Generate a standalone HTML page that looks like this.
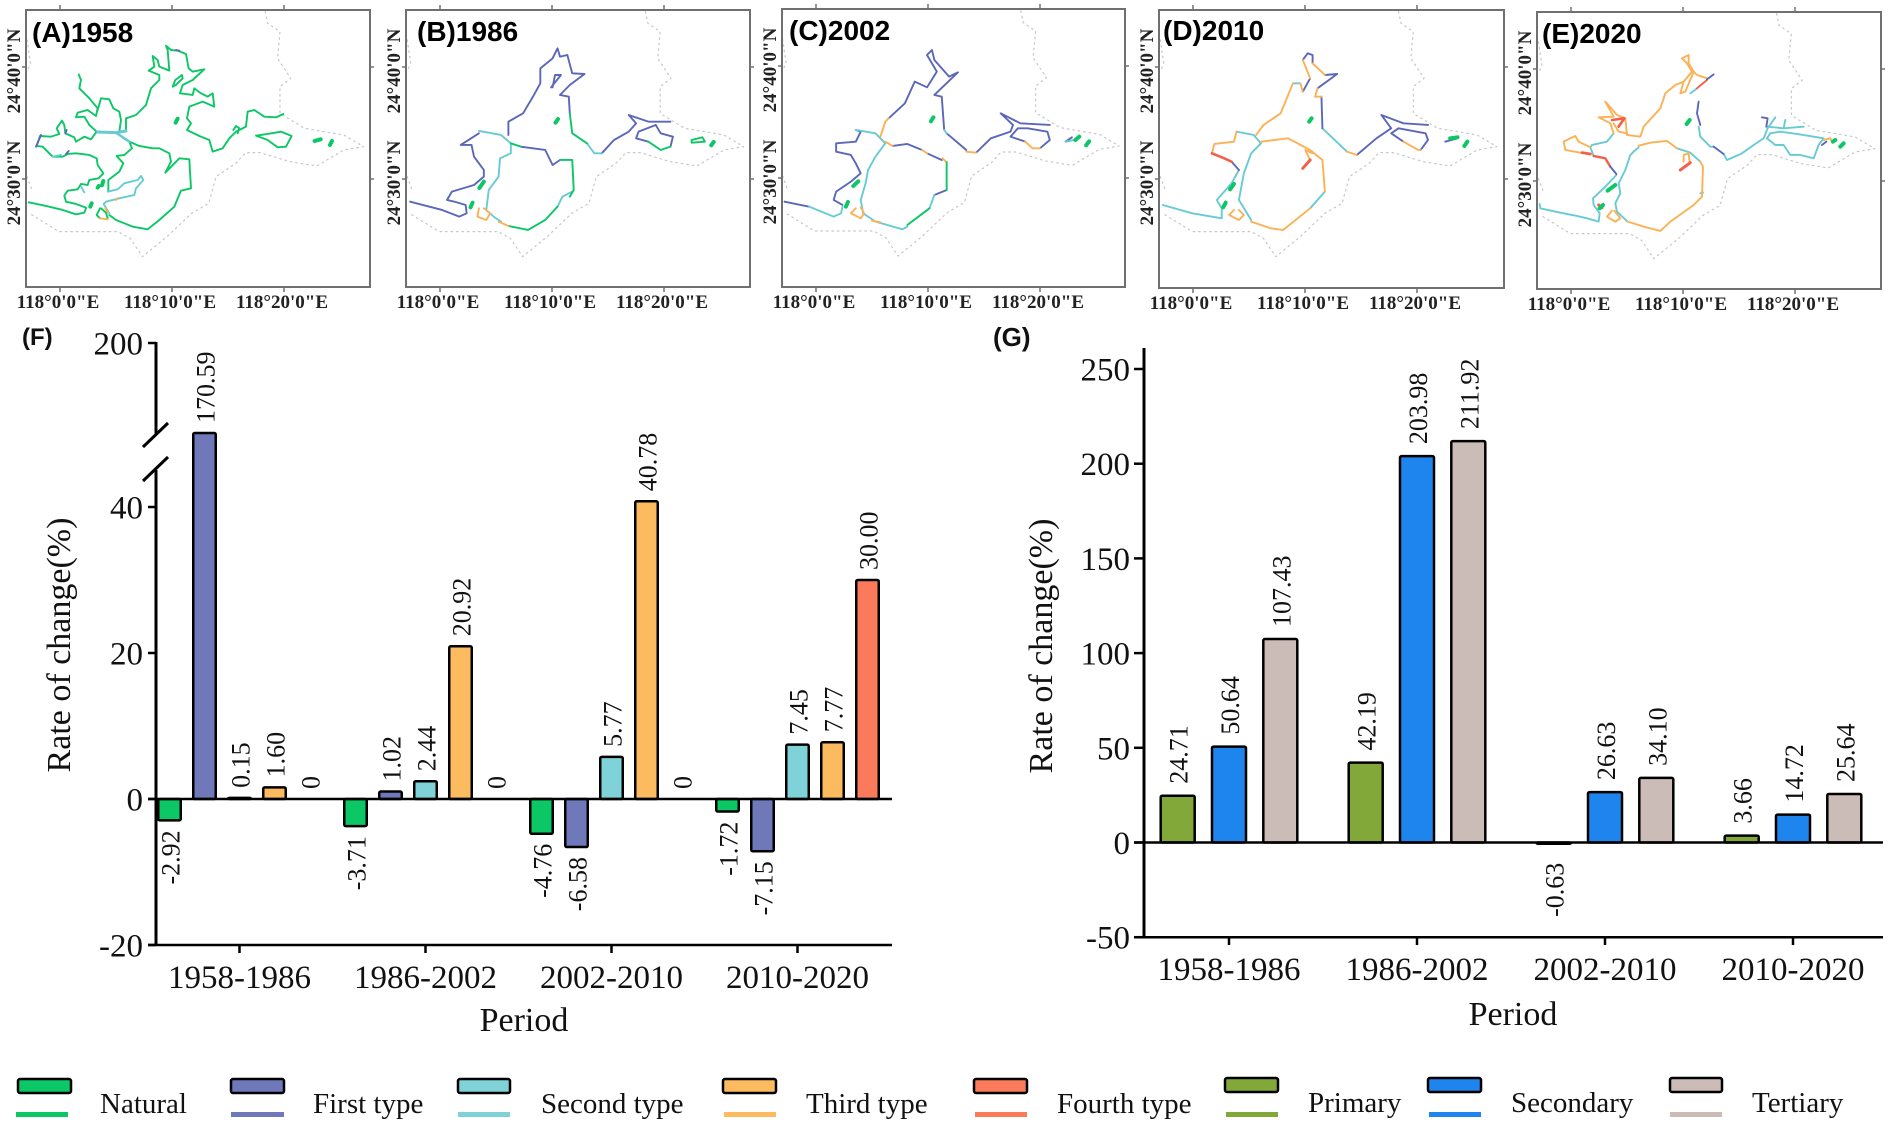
<!DOCTYPE html>
<html lang="en">
<head>
<meta charset="utf-8">
<title>Rate of change by coast type and industry</title>
<style>
html,body{margin:0;padding:0;background:#fff;}
svg{display:block;font-family:"Liberation Serif",serif;}
polyline{fill:none;stroke-width:1.9;stroke-linejoin:round;stroke-linecap:round;vector-effect:non-scaling-stroke;}
.n polyline{stroke:#0bc765;}
.f polyline{stroke:#5b67b8;}
.s polyline{stroke:#68cbd4;}
.t polyline{stroke:#fbb155;}
.r polyline{stroke:#f2604a;}
.spot polyline{stroke:#0bc765;stroke-width:4;}
.bnd polyline{stroke:#c6c6c6;stroke-width:1.2;stroke-dasharray:1.5 4;}
.leg{font-size:29px;fill:#111;}
</style>
</head>
<body>
<svg id="fig" xmlns="http://www.w3.org/2000/svg" width="1890" height="1124" viewBox="0 0 1890 1124">
<rect width="1890" height="1124" fill="#fff"/>
<defs>
<g id="bnd-shape" class="bnd">
<polyline points="540,35 545,70 570,95 565,175 592,235 570,260 570,340 620,385 700,405 740,440 700,450 645,498 590,485 530,458 500,458 480,490 440,530 425,610 390,640 340,710 290,770 265,715 240,695 120,695 60,640"/>
<polyline points="55,120 62,190 55,215"/>
<polyline points="55,530 65,570"/>
</g>
</defs>

<g transform="scale(.4912,.3333)"><use href="#bnd-shape"/></g>
<g id="map-a" transform="translate(26,30) scale(.3333)">
<g class="n">
<polyline points="8,517 60,528 110,540 150,553 175,548 180,535"/>
<polyline points="180,533 150,522 120,515 115,497 125,482 155,478 165,462 185,465 190,450 218,445 232,430 215,405 212,385 190,375 150,370 125,372 110,380 80,380 65,365 50,350 32,348 42,318 75,320 100,312 92,295 108,272 115,285 118,310 145,322 150,335 175,320 195,328 212,305 190,285 175,260 150,262 155,248 185,240 210,258 215,235 190,205 160,175 165,150 158,133"/>
<polyline points="215,240 225,205 250,208 262,235 280,245 285,270 280,305"/>
<polyline points="300,305 300,265 330,255 360,225 375,175 400,150 400,135 368,122 385,110 380,78 395,90 400,110 430,122 425,60 420,47 435,60 455,62 480,72 488,115 500,125 535,118 500,150 470,165 462,190 500,195 505,175 525,190 545,200 560,190 565,230 530,215 490,230 483,265 495,280 483,300 520,318 550,330 560,365 590,355 610,325 630,305 660,290 665,245 685,240 715,260 750,262 772,252"/>
<polyline points="622,300 630,288 640,295 635,310"/>
<polyline points="440,170 448,150 468,135 470,145 450,165 440,170"/>
<polyline points="310,335 340,348 380,355 400,355 430,370 435,395 418,428 460,385 490,388 495,475 465,482 445,530 400,570 365,598 320,590 270,570 250,555"/>
<polyline points="310,335 318,355 295,375 272,378 292,400 280,425 247,450 247,483"/>
<polyline points="690,317 725,312 765,305 797,318 780,350 755,352 725,330 690,317"/>
<polyline points="222,565 212,555 222,535 225,535 240,548 245,565"/>
</g>
<g class="s">
<polyline points="215,306 270,308 300,303" style="stroke-width:3"/>
<polyline points="270,308 310,335" style="stroke-width:2.6"/>
<polyline points="245,485 275,478 295,460 335,450 345,438 352,450 330,475 325,495 280,505 240,515 233,522 250,550"/>
<polyline points="80,380 105,375"/>
<polyline points="165,470 175,487"/>
</g>
<g class="f">
<polyline points="30,350 45,315"/>
<polyline points="120,372 128,363"/>
<polyline points="118,310 122,300"/>
<polyline points="450,60 460,62"/>
</g>
<g class="t">
<polyline points="270,510 276,504"/>
<polyline points="222,565 245,568"/>
<polyline points="238,535 246,548"/>
</g>
<g class="spot">
<polyline points="449,278 455,266"/><polyline points="193,530 197,520"/><polyline points="215,473 218,468"/><polyline points="228,466 232,453"/><polyline points="866,333 884,328"/><polyline points="912,345 918,333"/>
</g>
</g>

<g id="map-b" transform="scale(.4912,.3333)">
<use href="#bnd-shape" x="774"/>
<g class="f">
<polyline points="835,605 900,630 935,650 950,640 948,615 925,605 910,600 920,575 965,555 985,530 985,510 965,470 960,435 938,435 975,400"/>
<polyline points="1035,405 1035,365 1065,340 1085,290 1100,250 1100,205 1125,175 1135,145 1140,170 1155,165 1165,220 1190,222 1160,255 1140,285 1158,290 1160,340"/>
<polyline points="1225,460 1250,420 1280,395 1295,370 1280,345 1320,365 1365,365"/>
<polyline points="1335,375 1300,395 1295,415 1320,425"/>
<polyline points="1365,440 1370,410 1345,400 1335,375"/>
<polyline points="1122,262 1142,225 1130,225 1125,262 1122,262"/>
<polyline points="1060,440 1110,450 1125,495 1140,480"/>
</g>
<g class="s">
<polyline points="975,393 1020,405 1040,430 1040,460 1018,475 1015,530 995,570 990,630 1005,650 1020,665"/>
<polyline points="1195,430 1210,460 1225,460"/>
<polyline points="1165,575 1145,590 1135,620"/>
</g>
<g class="n">
<polyline points="1160,340 1165,400 1195,430"/>
<polyline points="1320,425 1345,450 1365,440"/>
<polyline points="1040,430 1060,440"/>
<polyline points="1140,480 1165,480 1168,570 1160,590"/>
<polyline points="1135,620 1110,660 1075,690 1035,678"/>
<polyline points="1408,420 1430,412 1435,425 1408,428 1408,420"/>
</g>
<g class="t">
<polyline points="1035,678 1015,665"/>
<polyline points="975,625 972,650 990,660 998,640 985,625"/>
</g>
<g class="spot">
<polyline points="1131,368 1136,357"/><polyline points="958,622 962,608"/><polyline points="976,564 985,545"/><polyline points="1448,436 1453,426"/>
</g>
</g>

<g id="map-c" transform="translate(760,0) scale(.4912,.3333)">
<use href="#bnd-shape" x="-9" y="-2"/>
<g class="f">
<polyline points="50,605 100,620"/>
<polyline points="168,615 150,600 155,575 185,545 205,520 195,490 185,465 155,455 155,430 195,425 205,395 195,390"/>
<polyline points="355,585 380,570"/>
<polyline points="370,480 340,460"/>
<polyline points="330,450 300,432 270,438"/>
<polyline points="262,355 295,310 315,245 340,262 360,215 340,165 350,150 355,180 385,230 403,217 355,285 370,290 375,390"/>
<polyline points="380,400 420,450"/>
<polyline points="440,458 470,415 510,395 515,375 490,340 530,370 590,375"/>
<polyline points="525,385 510,410 540,425"/>
<polyline points="570,445 590,420 585,395 545,385 525,385"/>
<polyline points="622,425 635,412"/>
</g>
<g class="s">
<polyline points="100,620 150,650 165,640 168,620"/>
<polyline points="195,390 235,400 255,430 235,470 220,510 215,550 205,600 210,640 235,665 290,688 300,680"/>
<polyline points="345,625 355,585"/>
<polyline points="375,390 380,400"/>
<polyline points="622,425 640,420"/>
</g>
<g class="n">
<polyline points="300,675 345,625"/>
<polyline points="380,570 380,485"/>
</g>
<g class="t">
<polyline points="378,485 372,475"/>
<polyline points="340,460 330,450"/>
<polyline points="270,438 255,425"/>
<polyline points="245,410 255,365 262,355"/>
<polyline points="420,455 440,458"/>
<polyline points="540,425 555,445 570,445"/>
<polyline points="195,625 185,640 205,655 212,640 205,622"/>
<polyline points="228,662 245,667"/>
</g>
<g class="spot">
<polyline points="348,364 353,352"/><polyline points="175,620 179,606"/><polyline points="190,558 200,544"/><polyline points="642,420 650,410"/><polyline points="664,436 670,424"/>
</g>
</g>

<g id="map-d" transform="translate(760,0) scale(.4912,.3333)">
<use href="#bnd-shape" x="760"/>
<g class="s">
<polyline points="820,615 880,640 940,655 940,625 930,600 960,550 975,510"/>
<polyline points="970,395 1005,405 1020,430 1000,460 985,520 975,600 1000,660"/>
<polyline points="1120,625 1150,575"/>
<polyline points="1085,250 1100,250"/>
<polyline points="1145,385 1195,455"/>
</g>
<g class="f">
<polyline points="975,510 960,485"/>
<polyline points="1105,275 1120,235"/>
<polyline points="1105,180 1115,160 1125,165 1125,190"/>
<polyline points="1150,225 1175,222 1135,265"/>
<polyline points="1143,290 1145,385"/>
<polyline points="1215,465 1255,415 1285,385 1265,345 1310,370 1360,375"/>
<polyline points="1300,385 1285,400 1310,425"/>
<polyline points="1345,450 1360,420 1355,400 1300,385"/>
<polyline points="1395,425 1420,415"/>
</g>
<g class="t">
<polyline points="920,460 925,432 965,425 970,395"/>
<polyline points="1000,665 1040,685 1065,690 1120,625"/>
<polyline points="1150,575 1145,480 1120,450 1075,415 1020,425"/>
<polyline points="1010,405 1025,375 1060,340 1085,250"/>
<polyline points="1100,250 1105,275"/>
<polyline points="1120,235 1105,180"/>
<polyline points="1125,190 1150,225"/>
<polyline points="1135,265 1130,290 1143,290"/>
<polyline points="1195,455 1215,465"/>
<polyline points="1310,425 1340,450 1345,450"/>
<polyline points="1120,480 1110,450 1125,460"/>
<polyline points="965,630 955,645 975,660 985,645 975,630"/>
</g>
<g class="r">
<polyline points="920,460 945,475 960,485" style="stroke-width:2.6"/>
<polyline points="1105,505 1120,480" style="stroke-width:3"/>
</g>
<g class="spot">
<polyline points="1118,365 1123,355"/><polyline points="943,622 948,608"/><polyline points="957,568 965,552"/><polyline points="1405,415 1420,412"/><polyline points="1434,438 1440,425"/>
</g>
</g>

<g transform="translate(1130,0) scale(.4847,.3333)"><g transform="translate(787,6) scale(1.013,1)"><use href="#bnd-shape"/></g></g>
<g id="map-e" transform="translate(1537,30) scale(.3333)">
<g class="s">
<polyline points="8,522 10,535 70,548 120,558 150,565 185,575 188,550 170,525 168,505 205,470 238,435"/>
<polyline points="160,352 165,345 210,335 230,310"/>
<polyline points="460,190 480,175"/>
<polyline points="485,290 490,320 520,350 530,350"/>
<polyline points="560,372 570,390 615,370 650,345 680,325 692,295 715,262"/>
<polyline points="692,290 740,295 800,290"/>
<polyline points="745,270 740,295"/>
<polyline points="730,305 700,310 690,325 715,345 740,345 760,375 790,375 830,385 845,345 858,328"/>
<polyline points="730,305 780,312 860,325"/>
<polyline points="305,352 290,365 280,375 265,420 245,460 250,490 235,520 240,545 272,575"/>
<polyline points="420,355 460,368 490,395"/>
<polyline points="498,488 490,490"/>
<polyline points="160,352 170,378"/>
</g>
<g class="t">
<polyline points="160,352 125,335 115,318 100,325 80,335 85,360 130,368 160,372"/>
<polyline points="230,310 220,280 185,262 230,260 205,215 240,255 265,265 270,315 310,320 320,290 370,235 385,190 415,165 440,155 465,125 450,100 435,85 455,75 455,100 470,125 480,135 510,145"/>
<polyline points="440,155 430,190 445,185 468,130"/>
<polyline points="230,280 245,305 270,310"/>
<polyline points="272,575 320,590 370,603 400,575 470,525 495,500 498,410 490,395"/>
<polyline points="420,355 390,333 340,338 305,347"/>
<polyline points="225,542 210,560 235,575 250,565 232,542"/>
<polyline points="458,400 455,370 440,375 440,395"/>
<polyline points="860,330 880,325 885,335"/>
</g>
<g class="r">
<polyline points="135,368 160,372" style="stroke-width:2.8"/>
<polyline points="170,378 205,385 220,410" style="stroke-width:2.4"/>
<polyline points="225,270 262,265 245,290" style="stroke-width:2.6"/>
<polyline points="430,420 460,398" style="stroke-width:3"/>
<polyline points="480,175 510,150"/>
<polyline points="185,525 195,533" style="stroke-width:3"/>
</g>
<g class="f">
<polyline points="510,148 530,133"/>
<polyline points="485,215 480,250 490,285"/>
<polyline points="220,410 238,432"/>
<polyline points="675,262 692,265 688,290"/>
<polyline points="855,345 868,335"/>
<polyline points="530,350 560,372"/>
</g>
<g class="spot">
<polyline points="449,282 458,270"/><polyline points="212,482 235,465"/><polyline points="188,535 198,525"/><polyline points="888,335 895,330"/><polyline points="910,350 920,340"/>
</g>
</g>

<g id="legend">
<g><rect x="18" y="1079" width="53" height="14" rx="2" fill="#0bc765" stroke="#000" stroke-width="2.5"/><rect x="16" y="1112" width="52" height="5" fill="#0bc765"/><text class="leg" x="100" y="1113">Natural</text></g>
<g><rect x="231" y="1079" width="53" height="14" rx="2" fill="#6f79b9" stroke="#000" stroke-width="2.5"/><rect x="231" y="1112" width="53" height="5" fill="#6f79b9"/><text class="leg" x="313" y="1113">First type</text></g>
<g><rect x="458" y="1079" width="52" height="14" rx="2" fill="#7fd3d8" stroke="#000" stroke-width="2.5"/><rect x="458" y="1112" width="52" height="5" fill="#7fd3d8"/><text class="leg" x="541" y="1113">Second type</text></g>
<g><rect x="723" y="1079" width="53" height="14" rx="2" fill="#fdbb60" stroke="#000" stroke-width="2.5"/><rect x="724" y="1112" width="52" height="5" fill="#fdbb60"/><text class="leg" x="806" y="1113">Third type</text></g>
<g><rect x="974" y="1079" width="53" height="14" rx="2" fill="#fb7a5c" stroke="#000" stroke-width="2.5"/><rect x="975" y="1112" width="52" height="5" fill="#fb7a5c"/><text class="leg" x="1057" y="1113">Fourth type</text></g>
<g><rect x="1225" y="1078" width="53" height="14" rx="2" fill="#82a83a" stroke="#000" stroke-width="2.5"/><rect x="1226" y="1112" width="52" height="5" fill="#82a83a"/><text class="leg" x="1308" y="1112">Primary</text></g>
<g><rect x="1428" y="1078" width="53" height="14" rx="2" fill="#1e85ee" stroke="#000" stroke-width="2.5"/><rect x="1429" y="1112" width="52" height="5" fill="#1e85ee"/><text class="leg" x="1511" y="1112">Secondary</text></g>
<g><rect x="1670" y="1078" width="52" height="14" rx="2" fill="#cbbcb7" stroke="#000" stroke-width="2.5"/><rect x="1670" y="1112" width="52" height="5" fill="#cbbcb7"/><text class="leg" x="1752" y="1112">Tertiary</text></g>
</g>
</svg>

<script>
/* ---------- chart data ---------- */
const periods = ['1958-1986', '1986-2002', '2002-2010', '2010-2020'];
const fNatural = [-2.92, -3.71, -4.76, -1.72];
const fFirst = [170.59, 1.02, -6.58, -7.15];
const fSecond = [0.15, 2.44, 5.77, 7.45];
const fThird = [1.60, 20.92, 40.78, 7.77];
const fFourth = [0, 0, 0, 30.00];
const fTickValues = [-20, 0, 20, 40, 200];
const gPrimary = [24.71, 42.19, -0.63, 3.66];
const gSecondary = [50.64, 203.98, 26.63, 14.72];
const gTertiary = [107.43, 211.92, 34.10, 25.64];
const gTickValues = [-50, 0, 50, 100, 150, 200, 250];

const svg = document.getElementById('fig');
const NS = 'http://www.w3.org/2000/svg';
function mk(tag, attrs, parent, txt) {
  const el = document.createElementNS(NS, tag);
  for (const k in attrs) el.setAttribute(k, attrs[k]);
  if (txt !== undefined) el.textContent = txt;
  (parent || svg).appendChild(el);
  return el;
}
function fmt(v) { return v === 0 ? '0' : v.toFixed(2); }

/* ---------- axis functions ---------- */
const F_ZERO = 799, F_UNIT = 7.3, F_BREAK_LOW = 45, F_BREAK_HIGH = 170, F_TOP = 343, F_UPPER_UNIT = 3.06;
function yF(v) {
  if (v <= F_BREAK_LOW) return F_ZERO - v * F_UNIT;
  if (v >= F_BREAK_HIGH) return F_TOP + (200 - v) * F_UPPER_UNIT;
  const a = F_ZERO - F_BREAK_LOW * F_UNIT;
  const b = F_TOP + (200 - F_BREAK_HIGH) * F_UPPER_UNIT;
  return a + (b - a) * (v - F_BREAK_LOW) / (F_BREAK_HIGH - F_BREAK_LOW);
}
function xFgroup(g) { return 239.5 + 186 * g; }
function xF(g, s, n) { return xFgroup(g) + (s - (n - 1) / 2) * 35; }
const G_ZERO = 842.5, G_UNIT = 1.894;
function yG(v) { return G_ZERO - v * G_UNIT; }
function xGgroup(g) { return 1229 + 188 * g; }
function xG(g, s, n) { return xGgroup(g) + (s - (n - 1) / 2) * 51.3; }

/* ---------- generic bar drawing ---------- */
function drawBars(layer, seriesList, colors, names, xFn, yFn, bw, gap, panel) {
  seriesList.forEach(function (values, s) {
    values.forEach(function (v, g) {
      const cx = xFn(g, s, seriesList.length);
      const y0 = yFn(0), yv = yFn(v);
      if (v !== 0) {
        const bar = mk('rect', {
          x: cx - bw / 2, y: Math.min(y0, yv), width: bw, height: Math.abs(yv - y0),
          rx: 1.5, fill: colors[s], stroke: '#000', 'stroke-width': 2.5
        }, layer);
        
        
      }
      const ly = v < 0 ? yv + gap.neg : yv - gap.pos;
      const lab = mk('text', {
        x: cx + 10, y: ly, 'font-size': 26, fill: '#111',
        'text-anchor': v < 0 ? 'end' : 'start',
        transform: 'rotate(-90 ' + (cx + 10) + ' ' + ly + ')'
      }, layer, fmt(v));
      
      
    });
  });
}
function line(parent, x1, y1, x2, y2, w) {
  return mk('line', { x1: x1, y1: y1, x2: x2, y2: y2, stroke: '#000', 'stroke-width': w }, parent);
}

/* ---------- chart F ---------- */
const chartF = mk('g', {});


const fBars = mk('g', {}, chartF);


drawBars(fBars, [fNatural, fFirst, fSecond, fThird, fFourth],
  ['#0bc765', '#6f79b9', '#7fd3d8', '#fdbb60', '#fb7a5c'],
  ['natural', 'first-type', 'second-type', 'third-type', 'fourth-type'],
  xF, yF, 22.5, { pos: 10, neg: 10 }, 'f');

const fAxes = mk('g', {}, chartF);


line(fAxes, 156, yF(200) - 1, 156, 434, 3);
line(fAxes, 156, 470, 156, yF(-20), 3);
line(fAxes, 143, 447, 168, 423, 3);
line(fAxes, 143, 481, 168, 457, 3);
line(fAxes, 148, yF(0), 892, yF(0), 2.5);
line(fAxes, 148, yF(-20), 892, yF(-20), 2.5);
fTickValues.forEach(function (t) {
  line(fAxes, 148, yF(t), 156, yF(t), 2.5);
  const tl = mk('text', { x: 143, y: yF(t) + 11.5, 'font-size': 33, 'text-anchor': 'end', fill: '#111' }, fAxes, String(t));
  
  
});
periods.forEach(function (p, g) {
  line(fAxes, xFgroup(g), yF(-20), xFgroup(g), 953, 2.5);
  const tl = mk('text', { x: xFgroup(g), y: 988, 'font-size': 33, 'text-anchor': 'middle', fill: '#111' }, fAxes, p);
  
  
});
const fXTitle = mk('text', { x: 524, y: 1031, 'font-size': 34, 'text-anchor': 'middle', fill: '#111' }, chartF, 'Period');


const fYTitle = mk('text', { x: 70, y: 645, 'font-size': 34, 'text-anchor': 'middle', fill: '#111', transform: 'rotate(-90 70 645)' }, chartF, 'Rate of change(%)');


const fLetter = mk('text', { x: 22, y: 345, 'font-size': 24, 'font-weight': 'bold', 'font-family': '"Liberation Sans",sans-serif', fill: '#111' }, chartF, '(F)');



/* ---------- chart G ---------- */
const chartG = mk('g', {});


const gBars = mk('g', {}, chartG);


drawBars(gBars, [gPrimary, gSecondary, gTertiary],
  ['#82a83a', '#1e85ee', '#cbbcb7'],
  ['primary', 'secondary', 'tertiary'],
  xG, yG, 34, { pos: 12, neg: 19 }, 'g');

const gAxes = mk('g', {}, chartG);


line(gAxes, 1144, 348, 1144, yG(-50), 3);
line(gAxes, 1134, yG(0), 1883, yG(0), 2.5);
line(gAxes, 1134, yG(-50), 1883, yG(-50), 2.5);
gTickValues.forEach(function (t) {
  line(gAxes, 1134, yG(t), 1144, yG(t), 2.5);
  const tl = mk('text', { x: 1130, y: yG(t) + 11.5, 'font-size': 33, 'text-anchor': 'end', fill: '#111' }, gAxes, String(t));
  
  
});
periods.forEach(function (p, g) {
  line(gAxes, xGgroup(g), yG(-50), xGgroup(g), 945, 2.5);
  const tl = mk('text', { x: xGgroup(g), y: 980, 'font-size': 33, 'text-anchor': 'middle', fill: '#111' }, gAxes, p);
  
  
});
const gXTitle = mk('text', { x: 1513, y: 1025, 'font-size': 34, 'text-anchor': 'middle', fill: '#111' }, chartG, 'Period');


const gYTitle = mk('text', { x: 1052, y: 646, 'font-size': 34, 'text-anchor': 'middle', fill: '#111', transform: 'rotate(-90 1052 646)' }, chartG, 'Rate of change(%)');


const gLetter = mk('text', { x: 993, y: 346, 'font-size': 26, 'font-weight': 'bold', 'font-family': '"Liberation Sans",sans-serif', fill: '#111' }, chartG, '(G)');



/* ---------- map frames ---------- */
function mapFrame(fx, fy, fw, fh, title, titleX, titleY) {
  const g = mk('g', {});
  
  
  mk('rect', { x: fx, y: fy, width: fw, height: fh, fill: 'none', stroke: '#707070', 'stroke-width': 2 }, g);
  [34, 146, 258].forEach(function (dx, i) {
    const tx = fx + dx;
    mk('line', { x1: tx, y1: fy - 5, x2: tx, y2: fy, stroke: '#707070', 'stroke-width': 1.5 }, g);
    mk('line', { x1: tx, y1: fy + fh, x2: tx, y2: fy + fh + 5, stroke: '#707070', 'stroke-width': 1.5 }, g);
    const lab = mk('text', { x: tx - 2, y: fy + fh + 21, 'font-size': 19, 'font-weight': 'bold', 'text-anchor': 'middle', fill: '#222' }, g, ['118°0\'0"E', '118°10\'0"E', '118°20\'0"E'][i]);
    
    
  });
  [57, 169].forEach(function (dy, i) {
    const ty = fy + dy;
    mk('line', { x1: fx - 4, y1: ty, x2: fx, y2: ty, stroke: '#707070', 'stroke-width': 1.5 }, g);
    mk('line', { x1: fx + fw, y1: ty, x2: fx + fw + 4, y2: ty, stroke: '#707070', 'stroke-width': 1.5 }, g);
    const bx = fx - 6, by = ty + 4;
    const lab = mk('text', { x: bx, y: by, 'font-size': 19, 'font-weight': 'bold', 'text-anchor': 'middle', fill: '#222', transform: 'rotate(-90 ' + bx + ' ' + by + ')' }, g, ['24°40\'0"N', '24°30\'0"N'][i]);
    
    
  });
  const t = mk('text', { x: titleX, y: titleY, 'font-size': 28, 'font-weight': 'bold', 'font-family': '"Liberation Sans",sans-serif', fill: '#000' }, g, title);
  
  
}
mapFrame(26, 10, 344, 277, '(A)1958', 32, 42);
mapFrame(406, 10, 344, 277, '(B)1986', 417, 41);
mapFrame(782, 9, 343, 278, '(C)2002', 789, 40);
mapFrame(1159, 10, 345, 278, '(D)2010', 1163, 40);
mapFrame(1537, 12, 344, 277, '(E)2020', 1542, 43);
</script>
</body>
</html>
